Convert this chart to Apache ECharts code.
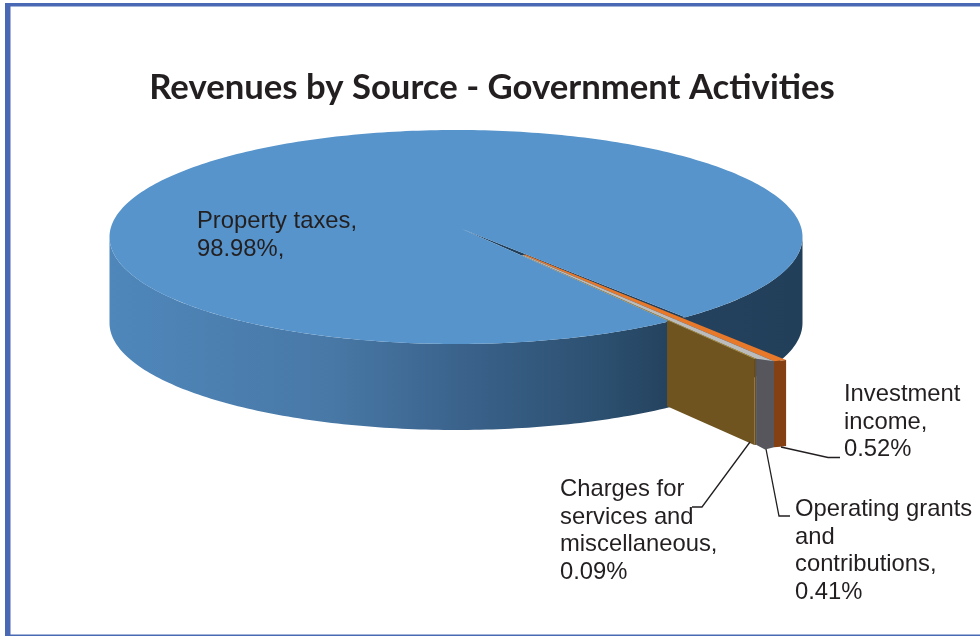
<!DOCTYPE html>
<html>
<head>
<meta charset="utf-8">
<style>html,body{margin:0;padding:0;background:#fff}#c{width:980px;height:636px}</style>
<script src="https://cdn.jsdelivr.net/npm/echarts@6/dist/echarts.min.js"></script>
</head>
<body>
<div id="c"></div>
<script>
// ---- data ----
const titleText = 'Revenues by Source - Government Activities';
const categories = ['Property taxes', 'Investment income', 'Operating grants and contributions', 'Charges for services and miscellaneous'];
const values = [98.98, 0.52, 0.41, 0.09];
const labels = [
  'Property taxes,\n98.98%,',
  'Investment\nincome,\n0.52%',
  'Operating grants\nand\ncontributions,\n0.41%',
  'Charges for\nservices and\nmiscellaneous,\n0.09%'
];

// ---- layout / style ----
const disc = { cx: 456, cy: 237, rx: 346.5, ry: 107, depth: 86 };
const apex = { x: 462, y: 229 };
const firstEdgeDeg = 52.6, wedgeForeshorten = 0.72;
const rimRadius = [1.54, 1.53, 1.48, 1.48];
const faceBulge = [0, 0, 3.5, 0];
const wedgeStart = 0.3, wallStart = 1.038, slitExtraDeg = 0.6;
const topColors = ['#5694cb', '#e8782a', '#bcbcbc', '#c2952f'];
const faceColors = [null, '#843f12', '#56565c', '#6a5020'];
const wallColor = '#6f5420', slitColor = '#223f5a';
const labelPos = [[197, 207.5], [844, 380.5], [795, 495.5], [560, 475.5]];
const leaders = [
  null,
  [[781, 447], [828, 457.5], [840, 457.5]],
  [[766, 449], [779, 516], [790, 516]],
  [[750, 442], [702, 507], [692, 507]]
];
const labelFont = '23.8px "Liberation Sans"';
const ink = '#231f20';

// ---- projection helpers ----
const rad = d => d * Math.PI / 180;
const total = values.reduce((a, b) => a + b, 0);
const edges = [firstEdgeDeg];
for (let i = 1; i < values.length; i++) {
  edges.push(edges[i - 1] + values[i] / total * 360 * wedgeForeshorten);
}
const ray = (deg, r) => [apex.x + disc.rx * r * Math.cos(rad(deg)), apex.y + disc.ry * r * Math.sin(rad(deg))];
const ell = (deg, dy) => [disc.cx + disc.rx * Math.cos(rad(deg)), disc.cy + disc.ry * Math.sin(rad(deg)) + (dy || 0)];
const down = p => [p[0], p[1] + disc.depth];
function hitParam(deg) {
  const ux = (apex.x - disc.cx) / disc.rx, uy = (apex.y - disc.cy) / disc.ry;
  const dx = Math.cos(rad(deg)), dy = Math.sin(rad(deg));
  const b = ux * dx + uy * dy;
  const r = -b + Math.sqrt(b * b + 1 - ux * ux - uy * uy);
  return { r, param: Math.atan2(uy + r * dy, ux + r * dx) * 180 / Math.PI };
}

function arc(from, to, dy) {
  const pts = [], n = Math.max(2, Math.ceil(Math.abs(to - from)));
  for (let i = 0; i <= n; i++) pts.push(ell(from + (to - from) * i / n, dy));
  return pts;
}

function renderItem(params, api) {
  const i = params.dataIndex, kids = [];
  api.value(0);
  if (i === 0) {
    // side wall
    const side = arc(0, 180, 0).concat(arc(180, 0, disc.depth));
    kids.push({ type: 'polygon', shape: { points: side }, style: { fill: new echarts.graphic.LinearGradient(0, 0, 1, 0, [
      { offset: 0, color: '#4f87bb' }, { offset: 0.32, color: '#4878a6' }, { offset: 0.51, color: '#3a628b' },
      { offset: 0.71, color: '#2c5070' }, { offset: 0.81, color: '#24425e' }, { offset: 1, color: '#223f5a' }
    ]) } });
    // top of the large slice: everything outside the small slices' span
    const a = hitParam(edges[edges.length - 1]).param;
    const b = hitParam(edges[0] - slitExtraDeg).param;
    const top = [[apex.x, apex.y]].concat(arc(a, b + 360, 0));
    // slit wall seen between the slices
    kids.push({ type: 'polygon', shape: { points: [[apex.x, apex.y], ray(edges[0] - slitExtraDeg, hitParam(edges[0] - slitExtraDeg).r), ray(edges[edges.length - 1], hitParam(edges[edges.length - 1]).r)] }, style: { fill: slitColor } });
    kids.push({ type: 'polygon', shape: { points: top }, style: { fill: topColors[0] } });
  } else {
    const a = edges[i - 1], b = edges[i];
    const ra = rimRadius[i - 1], rb = rimRadius[i];
    if (i === values.length - 1) {
      const w0 = ray(b, wallStart), w1 = ray(b, rb);
      kids.push({ type: 'polygon', shape: { points: [w0, w1, down(w1), down(w0)] }, style: { fill: wallColor } });
    }
    const p0 = ray(a, ra), p1 = ray(b, rb);
    const d0 = down(p0), d1 = down(p1);
    const mid = [(d0[0] + d1[0]) / 2, (d0[1] + d1[1]) / 2 + faceBulge[i]];
    kids.push({ type: 'polygon', shape: { points: [p0, p1, d1, mid, d0] }, style: { fill: faceColors[i] } });
    kids.push({ type: 'polygon', shape: { points: [ray(a, wedgeStart), p0, p1, ray(b, wedgeStart)] }, style: { fill: topColors[i] } });
  }
  kids.push({ type: 'text', style: { text: labels[i], x: labelPos[i][0], y: labelPos[i][1], font: labelFont, lineHeight: 27.7, fill: ink, align: 'left', verticalAlign: 'top' } });
  if (leaders[i]) kids.push({ type: 'polyline', shape: { points: leaders[i] }, style: { stroke: ink, lineWidth: 1.3, fill: 'none' } });
  return { type: 'group', children: kids };
}

const chart = echarts.init(document.getElementById('c'), null, { renderer: 'canvas' });
chart.setOption({
  animation: false,
  backgroundColor: '#ffffff',
  title: {
    text: titleText, left: 487, top: 65, textAlign: 'center',
    textStyle: { fontFamily: 'Lato', fontWeight: 700, fontSize: 34.7, color: ink }
  },
  graphic: [
    { type: 'rect', shape: { x: 5, y: 3, width: 5.5, height: 633 }, style: { fill: '#4a69b4' }, silent: true },
    { type: 'rect', shape: { x: 5, y: 3, width: 975, height: 3.4 }, style: { fill: '#4a69b4' }, silent: true },
    { type: 'rect', shape: { x: 5, y: 634.6, width: 975, height: 1.4 }, style: { fill: '#4a69b4' }, silent: true }
  ],
  series: [{
    type: 'custom', coordinateSystem: 'none', silent: true,
    renderItem, data: values.map((v, i) => ({ name: categories[i], value: v }))
  }]
});
</script>
</body>
</html>
